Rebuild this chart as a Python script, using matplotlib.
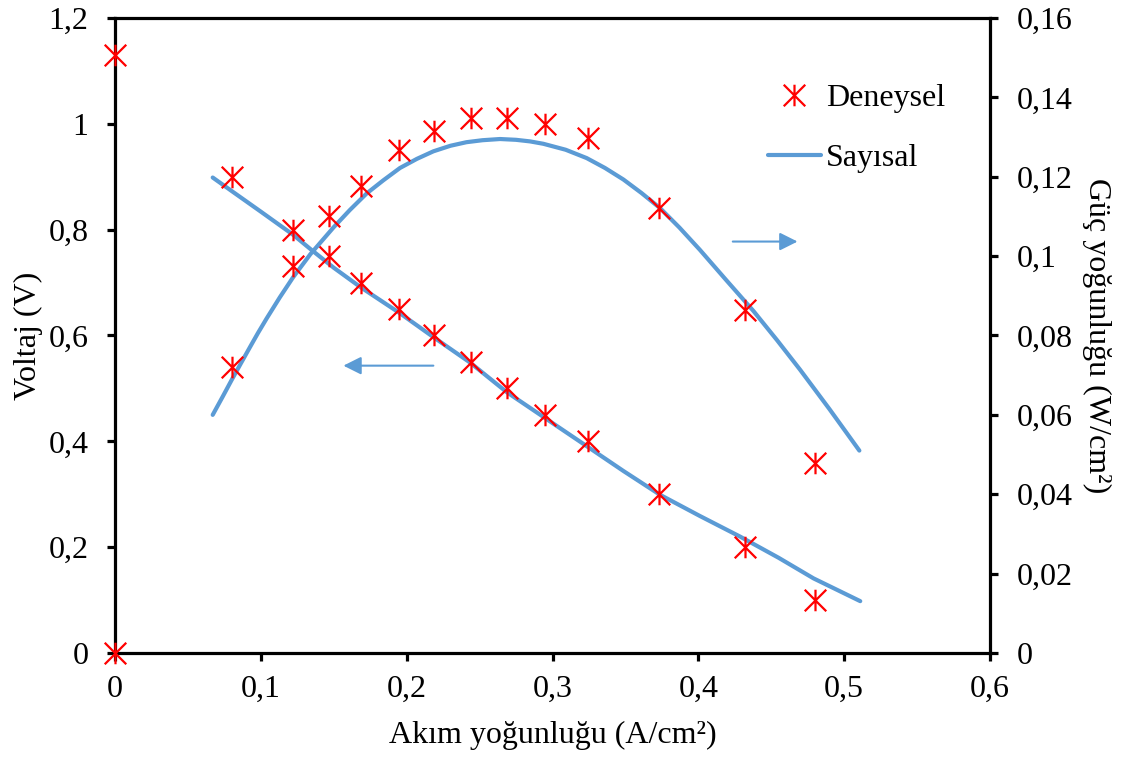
import numpy as np
import matplotlib
matplotlib.use("Agg")
import matplotlib.pyplot as plt
from matplotlib.path import Path
from matplotlib.lines import Line2D

plt.rcParams['font.family'] = ['Liberation Serif', 'DejaVu Serif']
plt.rcParams['font.size'] = 23

# experimental points (Deneysel)
akim = [0.0, 0.080, 0.122, 0.147, 0.169, 0.195, 0.219, 0.244, 0.269, 0.295, 0.324, 0.373, 0.432, 0.480]
voltaj = [1.13, 0.90, 0.80, 0.75, 0.70, 0.65, 0.60, 0.55, 0.50, 0.45, 0.40, 0.30, 0.20, 0.10]
akim_guc = [0.0, 0.080, 0.122, 0.147, 0.169, 0.195, 0.219, 0.244, 0.269, 0.295, 0.324, 0.373, 0.432, 0.480]
guc = [0.0, 0.072, 0.0976, 0.110, 0.1177, 0.1268, 0.1315, 0.1348, 0.1348, 0.1332, 0.1297, 0.1121, 0.0865, 0.048]

# numerical curves (Sayisal)
akim_v_model = [0.067, 0.080, 0.100, 0.1223, 0.1337, 0.150, 0.168, 0.1954, 0.2183, 0.2434,
                0.2686, 0.2949, 0.3234, 0.3486, 0.3737, 0.401, 0.4286, 0.455, 0.479, 0.511]
voltaj_model = [0.8985, 0.873, 0.834, 0.790, 0.764, 0.728, 0.692, 0.642, 0.597, 0.549,
                0.493, 0.444, 0.391, 0.344, 0.299, 0.259, 0.220, 0.180, 0.141, 0.098]
akim_p_model = [0.067, 0.074, 0.080, 0.0865, 0.0926, 0.098, 0.104, 0.113, 0.122, 0.134,
                0.150, 0.161, 0.1726, 0.184, 0.1954, 0.207, 0.2183, 0.230, 0.241, 0.252,
                0.264, 0.275, 0.2846, 0.2937, 0.309, 0.3234, 0.336, 0.3486, 0.361, 0.3737,
                0.387, 0.401, 0.419, 0.4377, 0.454, 0.4697, 0.490, 0.5104]
guc_model = [0.0600, 0.0647, 0.0688, 0.0731, 0.0771, 0.0806, 0.0843, 0.0896, 0.0946, 0.1005,
             0.1073, 0.1116, 0.1158, 0.1191, 0.1222, 0.1245, 0.1264, 0.1278, 0.1287, 0.1292,
             0.1295, 0.1293, 0.1289, 0.1283, 0.1268, 0.1247, 0.1222, 0.1193, 0.1159, 0.1121,
             0.1072, 0.1016, 0.0940, 0.0862, 0.0788, 0.0714, 0.0614, 0.0510]

x_ticks = [0, 0.1, 0.2, 0.3, 0.4, 0.5, 0.6]
v_ticks = [0, 0.2, 0.4, 0.6, 0.8, 1.0, 1.2]
p_ticks = [0, 0.02, 0.04, 0.06, 0.08, 0.1, 0.12, 0.14, 0.16]

mavi = '#5B9BD5'
kirmizi = '#FF0000'

# excel-like asterisk marker
yildiz = Path([(0, -1), (0, 1), (-1, -1), (1, 1), (-1, 1), (1, -1)],
              [Path.MOVETO, Path.LINETO] * 3)


def virgul(v):
    return f"{v:g}".replace('.', ',')


fig = plt.figure(figsize=(11.23, 7.58), dpi=100)
ax = fig.add_axes([0.1024, 0.1385, 0.7792, 0.8378])
ax2 = ax.twinx()

ax.plot(akim_v_model, voltaj_model, color=mavi, lw=3, solid_capstyle='round',
        solid_joinstyle='round', zorder=3)
ax.plot(akim, voltaj, ls='none', marker=yildiz, ms=15.5, mew=1.6, color=kirmizi,
        clip_on=False, zorder=5)
ax2.plot(akim_p_model, guc_model, color=mavi, lw=3, solid_capstyle='round',
         solid_joinstyle='round', zorder=3)
ax2.plot(akim_guc, guc, ls='none', marker=yildiz, ms=15.5, mew=1.6, color=kirmizi,
         clip_on=False, zorder=5)

ax.set_xlim(0, 0.6)
ax.set_ylim(0, 1.2)
ax2.set_ylim(0, 0.16)
ax.set_xticks(x_ticks)
ax.set_xticklabels([virgul(v) for v in x_ticks])
ax.set_yticks(v_ticks)
ax.set_yticklabels([virgul(v) for v in v_ticks])
ax2.set_yticks(p_ticks)
ax2.set_yticklabels([virgul(v) for v in p_ticks])

for s in ax.spines.values():
    s.set_linewidth(2.3)
ax.spines['right'].set_visible(False)
for k in ['left', 'top', 'bottom']:
    ax2.spines[k].set_visible(False)
ax2.spines['right'].set_linewidth(2.3)

ax.tick_params(axis='x', direction='out', length=6, width=2.3, pad=10)
ax.tick_params(axis='y', direction='out', length=6, width=2.3, pad=13)
ax2.tick_params(axis='y', direction='out', length=6, width=2.3, pad=13)

ax.set_xlabel('Akım yoğunluğu (A/cm²)', labelpad=12)
ax.set_ylabel('Voltaj (V)', labelpad=4)
ax2.set_ylabel('Güç yoğunluğu (W/cm²)', rotation=270, labelpad=28)

# arrows pointing to the related axis
ok = dict(arrowstyle='-|>,head_length=0.4,head_width=0.2', color=mavi, lw=1.5,
          mutation_scale=27, shrinkA=0, shrinkB=0)
ax.annotate('', xy=(0.1566, 0.543), xytext=(0.2183, 0.543), arrowprops=ok)
ax.annotate('', xy=(0.468, 0.7775), xytext=(0.4236, 0.7775), arrowprops=ok)

h1 = Line2D([], [], ls='none', marker=yildiz, ms=15.5, mew=1.6, color=kirmizi)
h2 = Line2D([], [], color=mavi, lw=3, solid_capstyle='round')
fig.legend([h1, h2], ['Deneysel', 'Sayısal'], loc='upper left',
           bbox_to_anchor=(0.684, 0.889), frameon=False, handlelength=1.65,
           handletextpad=0.15, labelspacing=0.95, borderpad=0, borderaxespad=0)

fig.savefig('out.png', dpi=100)
